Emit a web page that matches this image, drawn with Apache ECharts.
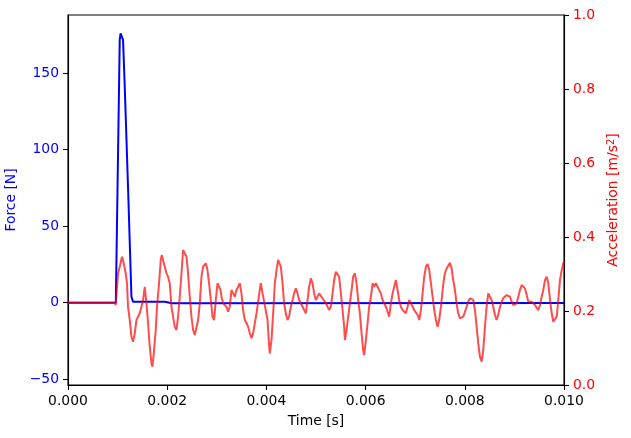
<!DOCTYPE html>
<html>
<head>
<meta charset="utf-8">
<script src="https://cdn.jsdelivr.net/npm/echarts@6/dist/echarts.min.js"></script>
<style>
html,body{margin:0;padding:0;background:#fff;}
#chart{width:631px;height:438px;}
</style>
</head>
<body>
<div id="chart"></div>
<script>
// Time axis ticks (seconds)
const timeTicks = [0, 0.002, 0.004, 0.006, 0.008, 0.010];
const forceTicks = [-50, 0, 50, 100, 150];
const accTicks = [0, 0.2, 0.4, 0.6, 0.8, 1.0];

// Force signal: [time ms, force N]
const forceSamples = [
  [0, 0], [0.964, 0], [0.976, 0.7], [1.043, 171.5], [1.060, 175.8], [1.077, 176.9],
  [1.094, 175.8], [1.110, 171.5], [1.144, 141.0], [1.210, 75.7], [1.279, 3.9],
  [1.311, 0.7], [1.951, 0.7], [2.092, -0.3], [10.0, -0.2]
];

// Acceleration signal (plotted on force scale): [time ms, value]
const accSamples = [
  [0,0],[0.942,0],[0.962,-1.5],[1.009,19.2],[1.043,23.5],[1.089,30.0],[1.124,25.7],[1.164,19.2],[1.190,12.7],[1.210,-2.6],
  [1.245,-11.3],[1.279,-22.2],[1.311,-25.5],[1.346,-20.0],[1.380,-11.3],[1.412,-10.2],[1.446,-6.9],[1.481,-2.6],[1.513,1.8],[1.547,10.4],
  [1.582,-0.4],[1.614,-13.4],[1.648,-28.7],[1.682,-39.6],[1.703,-41.8],[1.729,-33.0],[1.769,-17.8],[1.795,-2.6],[1.836,12.7],[1.870,27.9],
  [1.890,31.1],[1.916,27.9],[1.951,23.5],[1.985,19.2],[2.017,17.0],[2.052,12.7],[2.086,-2.6],[2.118,-9.1],[2.153,-15.7],[2.187,-17.8],
  [2.219,-9.1],[2.253,3.9],[2.288,19.2],[2.320,34.4],[2.354,34.4],[2.389,30.0],[2.421,19.2],[2.455,3.9],[2.489,-9.1],[2.522,-17.8],
  [2.556,-21.1],[2.590,-20.0],[2.623,-11.3],[2.657,-0.4],[2.691,17.0],[2.723,23.5],[2.778,25.7],[2.812,21.3],[2.844,12.7],[2.879,1.8],
  [2.913,-9.1],[2.945,-11.3],[2.980,1.8],[3.014,12.7],[3.046,13.7],[3.074,8.3],[3.095,3.9],[3.127,-0.4],[3.161,-1.5],[3.195,-2.6],
  [3.228,-5.9],[3.262,-2.6],[3.296,8.3],[3.329,6.1],[3.363,3.9],[3.397,8.3],[3.429,10.4],[3.463,12.7],[3.498,6.1],[3.530,-4.8],
  [3.565,-11.3],[3.599,-13.4],[3.631,-15.7],[3.666,-20.0],[3.700,-23.2],[3.732,-20.0],[3.766,-13.4],[3.801,-6.9],[3.833,0.7],[3.867,8.3],
  [3.887,12.7],[3.922,6.1],[3.954,0.7],[3.988,-0.4],[4.023,-11.3],[4.055,-28.7],[4.069,-33.0],[4.103,-24.3],[4.136,-6.9],[4.170,12.7],
  [4.204,21.3],[4.236,27.9],[4.257,29.0],[4.291,23.5],[4.325,12.7],[4.357,-0.4],[4.391,-6.9],[4.426,-11.3],[4.458,-9.1],[4.492,-2.6],
  [4.527,1.8],[4.559,6.1],[4.594,9.4],[4.628,6.1],[4.660,1.8],[4.694,0.7],[4.729,-2.6],[4.761,-1.5],[4.795,-6.9],[4.830,1.8],
  [4.862,10.4],[4.896,15.9],[4.930,12.7],[4.963,6.1],[4.997,1.8],[5.031,2.9],[5.064,6.1],[5.098,5.0],[5.132,2.9],[5.164,1.8],
  [5.199,-0.4],[5.233,-2.6],[5.265,-4.8],[5.300,-2.6],[5.334,6.1],[5.366,14.8],[5.400,20.2],[5.435,21.3],[5.467,17.0],[5.501,6.1],
  [5.536,-4.8],[5.568,-15.7],[5.582,-24.3],[5.616,-18.1],[5.649,-9.1],[5.683,-0.4],[5.717,8.3],[5.749,17.0],[5.784,19.2],[5.818,12.7],
  [5.850,1.8],[5.885,-6.9],[5.919,-20.0],[5.951,-30.9],[5.971,-34.1],[6.006,-24.3],[6.040,-13.4],[6.072,-2.6],[6.107,3.9],[6.141,12.7],
  [6.173,10.4],[6.207,12.7],[6.242,11.6],[6.274,8.3],[6.308,6.1],[6.342,1.8],[6.375,0.7],[6.409,-2.6],[6.443,-5.9],[6.476,-9.1],
  [6.510,-0.4],[6.544,6.1],[6.577,10.4],[6.611,14.8],[6.645,8.3],[6.677,1.8],[6.712,-2.6],[6.746,-4.8],[6.778,-5.9],[6.811,-6.9],
  [6.846,-2.6],[6.879,1.8],[6.914,-0.4],[6.948,-2.6],[6.980,-4.8],[7.015,-5.9],[7.049,-8.0],[7.081,-11.3],[7.115,-4.8],[7.149,6.1],
  [7.182,17.0],[7.216,23.5],[7.250,25.3],[7.283,21.3],[7.317,12.7],[7.351,3.9],[7.384,-4.8],[7.418,-11.3],[7.452,-15.7],[7.484,-11.3],
  [7.519,-2.6],[7.553,8.3],[7.585,17.0],[7.619,21.3],[7.654,23.5],[7.700,26.1],[7.734,22.5],[7.767,14.8],[7.801,8.3],[7.835,-0.4],
  [7.867,-6.9],[7.902,-10.2],[7.936,-11.3],[7.969,-9.1],[8.003,-5.9],[8.037,-2.6],[8.069,0.7],[8.104,2.9],[8.138,3.9],[8.170,1.8],
  [8.205,-4.8],[8.239,-15.7],[8.271,-26.5],[8.305,-35.2],[8.340,-38.5],[8.372,-30.9],[8.406,-15.7],[8.440,-2.6],[8.473,6.1],[8.507,6.5],
  [8.541,1.8],[8.573,-2.6],[8.608,-8.0],[8.642,-11.3],[8.674,-8.0],[8.709,-2.6],[8.743,0.7],[8.775,2.9],[8.810,3.9],[8.844,5.0],
  [8.876,6.1],[8.911,3.9],[8.945,0.7],[8.977,-1.5],[9.011,-2.6],[9.046,-0.4],[9.078,3.9],[9.112,8.3],[9.147,11.6],[9.179,12.7],
  [9.213,9.4],[9.248,5.0],[9.280,0.7],[9.314,-0.4],[9.348,0.7],[9.381,0.7],[9.415,-1.5],[9.449,-2.6],[9.482,-4.8],[9.516,-1.5],
  [9.550,3.9],[9.582,8.3],[9.617,14.8],[9.651,17.0],[9.683,12.7],[9.718,1.8],[9.752,-6.9],[9.784,-12.4],[9.818,-13.4],[9.853,-9.1],
  [9.885,1.8],[9.919,14.8],[9.954,21.3],[9.986,25.7],[10.0,27.0]
];

const FONT = 'DejaVu Sans';
const FS = 13.9;
const toSec = arr => arr.map(p => [p[0] / 1000, p[1]]);

const chart = echarts.init(document.getElementById('chart'), null, {renderer: 'canvas'});
chart.setOption({
  backgroundColor: '#ffffff',
  animation: false,
  grid: {left: 68, right: 67, top: 15, bottom: 53, containLabel: false, outerBoundsMode: 'none',
         show: true, borderColor: '#000', borderWidth: 1.1, backgroundColor: 'transparent'},
  xAxis: {
    type: 'value', min: 0, max: 0.010,
    name: 'Time [s]', nameLocation: 'middle', nameGap: 29,
    nameTextStyle: {fontFamily: FONT, fontSize: FS, color: '#000'},
    axisLine: {show: true, onZero: false, lineStyle: {color: '#000', width: 1.1}},
    axisTick: {show: true, inside: false, length: 5, lineStyle: {color: '#000', width: 1.1}, customValues: timeTicks},
    axisLabel: {fontFamily: FONT, fontSize: FS, color: '#000', margin: 9, customValues: timeTicks, formatter: v => v.toFixed(3)},
    splitLine: {show: false}
  },
  yAxis: [
    {
      type: 'value', position: 'left', min: -53.7, max: 187.8,
      name: 'Force [N]', nameLocation: 'middle', nameGap: 40,
      nameTextStyle: {fontFamily: FONT, fontSize: FS, color: '#0000ff'},
      axisLine: {show: true, onZero: false, lineStyle: {color: '#000', width: 1.1}},
      axisTick: {show: true, inside: false, length: 5, lineStyle: {color: '#000', width: 1.1}, customValues: forceTicks},
      axisLabel: {fontFamily: FONT, fontSize: FS, color: '#0000ff', margin: 9, customValues: forceTicks, formatter: v => (v < 0 ? '\u2212' + Math.abs(v) : String(v))},
      splitLine: {show: false}
    },
    {
      type: 'value', position: 'right', min: 0, max: 1, interval: 0.2,
      name: 'Acceleration [m/s{sup|2}]', nameLocation: 'middle', nameGap: 38,
      nameTextStyle: {fontFamily: FONT, fontSize: FS, color: '#ff0000',
        rich: {sup: {fontFamily: FONT, fontSize: 10, color: '#ff0000', verticalAlign: 'top', lineHeight: 10, padding: [0, 0, 6, 0]}}},
      axisLine: {show: true, onZero: false, lineStyle: {color: '#000', width: 1.1}},
      axisTick: {show: true, inside: false, length: 5, lineStyle: {color: '#000', width: 1.1}, customValues: accTicks},
      axisLabel: {fontFamily: FONT, fontSize: FS, color: '#ff0000', margin: 9, customValues: accTicks, formatter: v => v.toFixed(1)},
      splitLine: {show: false}
    }
  ],
  series: [
    {type: 'line', name: 'Force', yAxisIndex: 0, data: toSec(forceSamples), showSymbol: false,
     lineStyle: {color: '#0000ff', width: 2}, itemStyle: {color: '#0000ff'}, z: 2},
    {type: 'line', name: 'Acceleration', yAxisIndex: 0, data: toSec(accSamples), showSymbol: false,
     lineStyle: {color: 'rgba(255,0,0,0.7)', width: 2}, itemStyle: {color: '#ff0000'}, z: 3}
  ]
});
</script>
</body>
</html>
